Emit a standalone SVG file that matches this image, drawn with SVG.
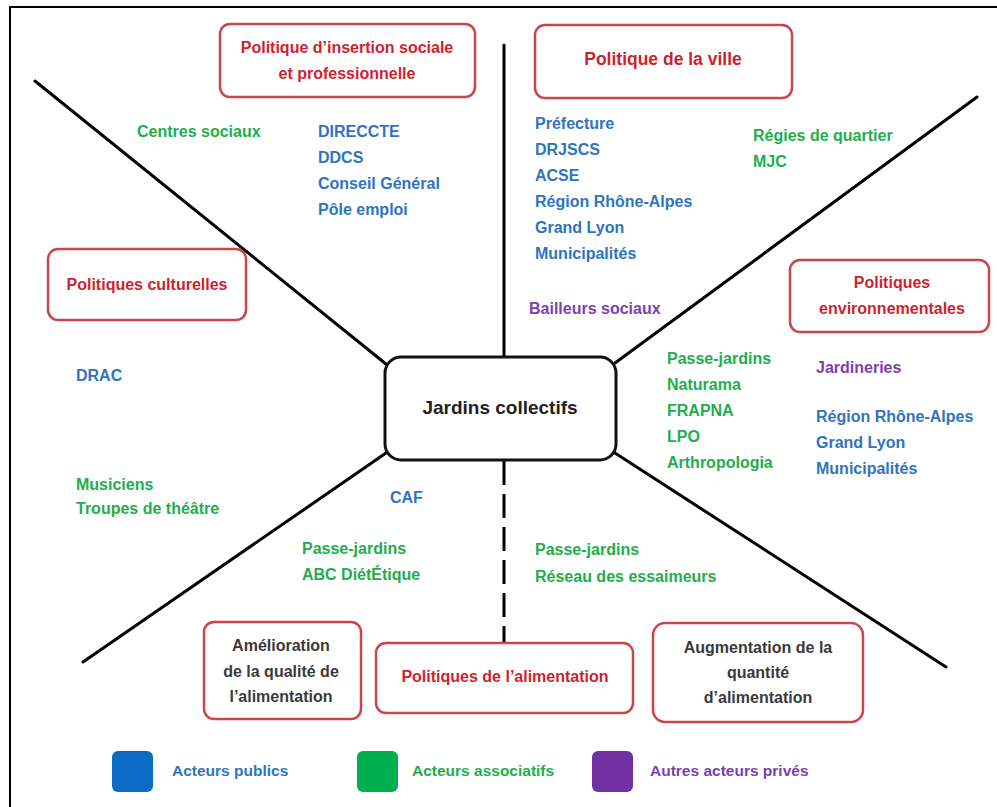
<svg xmlns="http://www.w3.org/2000/svg" width="997" height="807" viewBox="0 0 997 807">
<style>
.frame{fill:none;stroke:#000;stroke-width:2}
.pol{fill:#fff;stroke:#c9474c;stroke-width:2.5}
.core{fill:#fff;stroke:#111;stroke-width:3}
.ln{stroke:#000;stroke-width:3;fill:none;stroke-linecap:round}
.dash{stroke-dasharray:24 9;stroke-linecap:butt}
text{font-family:"Liberation Sans",Arial,sans-serif;font-weight:bold;font-size:16px}
.red{fill:#cf1f2e}
.blue{fill:#2f74bf}
.green{fill:#1fad4e}
.purple{fill:#7b3fb0}
.dark{fill:#3a3a3a;font-size:16px}
.mid{text-anchor:middle}
</style>
<rect class="frame" x="10" y="7" width="1000" height="820"/>
<g id="connectors">
<line class="ln" x1="35" y1="81" x2="386" y2="364"/>
<line class="ln" x1="504" y1="45" x2="504" y2="357"/>
<line class="ln" x1="977" y1="97" x2="615" y2="363"/>
<line class="ln" x1="386" y1="453" x2="83" y2="662"/>
<line class="ln" x1="615" y1="453" x2="946" y2="667"/>
<line class="ln dash" x1="504" y1="461" x2="504" y2="643"/>
</g>
<g id="insertion">
<rect class="pol" x="220" y="24" width="255" height="73" rx="10"/>
<text class="red mid" x="347" y="53">Politique d’insertion sociale</text>
<text class="red mid" x="347" y="79">et professionnelle</text>
</g>
<g id="ville">
<rect class="pol" x="535" y="25" width="257" height="73" rx="10"/>
<text class="red mid" x="663" y="65" style="font-size:17.5px">Politique de la ville</text>
</g>
<g id="culturelles">
<rect class="pol" x="48" y="249" width="198" height="71" rx="10"/>
<text class="red mid" x="147" y="290">Politiques culturelles</text>
</g>
<g id="environnementales">
<rect class="pol" x="790" y="260" width="199" height="72" rx="10"/>
<text class="red mid" x="892" y="288">Politiques</text>
<text class="red mid" x="892" y="314">environnementales</text>
</g>
<g id="jardins">
<rect class="core" x="385" y="357" width="231" height="103" rx="16"/>
<text class="mid" x="500" y="414" style="font-size:19px;fill:#222">Jardins collectifs</text>
</g>
<g id="amelioration">
<rect class="pol" x="204" y="622" width="157" height="97" rx="10"/>
<text class="dark mid" x="281" y="651">Amélioration</text>
<text class="dark mid" x="281" y="677">de la qualité de</text>
<text class="dark mid" x="281" y="702">l’alimentation</text>
</g>
<g id="alimentation">
<rect class="pol" x="376" y="643" width="257" height="70" rx="10"/>
<text class="red mid" x="505" y="682">Politiques de l’alimentation</text>
</g>
<g id="augmentation">
<rect class="pol" x="653" y="623" width="210" height="99" rx="12"/>
<text class="dark mid" x="758" y="653">Augmentation de la</text>
<text class="dark mid" x="758" y="678">quantité</text>
<text class="dark mid" x="758" y="703">d’alimentation</text>
</g>
<g id="acteurs-insertion">
<text class="green" x="137" y="137">Centres sociaux</text>
<text class="blue" x="318" y="137">DIRECCTE</text>
<text class="blue" x="318" y="163">DDCS</text>
<text class="blue" x="318" y="189">Conseil Général</text>
<text class="blue" x="318" y="215">Pôle emploi</text>
</g>
<g id="acteurs-ville">
<text class="blue" x="535" y="129">Préfecture</text>
<text class="blue" x="535" y="155">DRJSCS</text>
<text class="blue" x="535" y="181">ACSE</text>
<text class="blue" x="535" y="207">Région Rhône-Alpes</text>
<text class="blue" x="535" y="233">Grand Lyon</text>
<text class="blue" x="535" y="259">Municipalités</text>
<text class="green" x="753" y="141">Régies de quartier</text>
<text class="green" x="753" y="167">MJC</text>
<text class="purple" x="529" y="314">Bailleurs sociaux</text>
</g>
<g id="acteurs-culture">
<text class="blue" x="76" y="381">DRAC</text>
<text class="green" x="76" y="490">Musiciens</text>
<text class="green" x="76" y="514">Troupes de théâtre</text>
</g>
<g id="acteurs-environnement">
<text class="green" x="667" y="364">Passe-jardins</text>
<text class="green" x="667" y="390">Naturama</text>
<text class="green" x="667" y="416">FRAPNA</text>
<text class="green" x="667" y="442">LPO</text>
<text class="green" x="667" y="468">Arthropologia</text>
<text class="purple" x="816" y="373">Jardineries</text>
<text class="blue" x="816" y="422">Région Rhône-Alpes</text>
<text class="blue" x="816" y="448">Grand Lyon</text>
<text class="blue" x="816" y="474">Municipalités</text>
</g>
<g id="acteurs-alimentation">
<text class="blue" x="390" y="503">CAF</text>
<text class="green" x="302" y="554">Passe-jardins</text>
<text class="green" x="302" y="580">ABC DiétÉtique</text>
<text class="green" x="535" y="555">Passe-jardins</text>
<text class="green" x="535" y="582">Réseau des essaimeurs</text>
</g>
<g id="legende">
<rect x="112" y="751" width="41" height="41" rx="6" fill="#0a6cc4"/>
<text class="blue" x="172" y="776" style="font-size:15.5px">Acteurs publics</text>
<rect x="357" y="751" width="41" height="41" rx="6" fill="#00b050"/>
<text class="green" x="412" y="776" style="font-size:15.5px">Acteurs associatifs</text>
<rect x="592" y="751" width="41" height="41" rx="6" fill="#7030a0"/>
<text class="purple" x="650" y="776" style="font-size:15.5px">Autres acteurs privés</text>
</g>
</svg>
